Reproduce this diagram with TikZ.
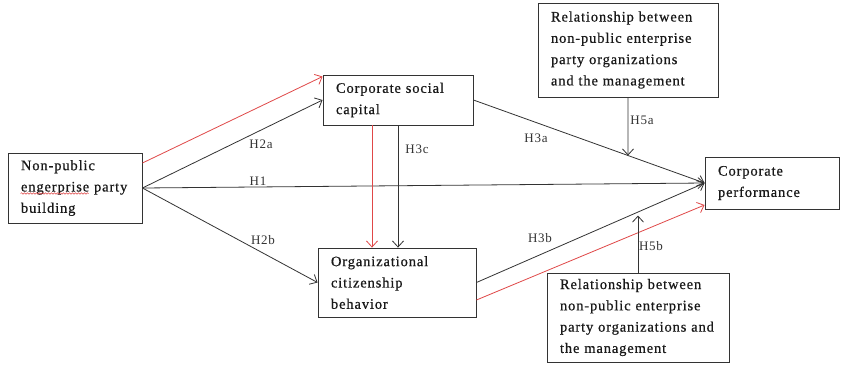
\documentclass[tikz,border=0pt]{standalone}
\usepackage{fontspec}
\setmainfont{Liberation Serif}
\usetikzlibrary{arrows.meta,decorations.pathmorphing}

\definecolor{linegray}{HTML}{333333}
\definecolor{linered}{HTML}{E04848}

\newfontfamily\boxfamily[LetterSpace=6,FakeBold=0.6]{Liberation Serif}
\newfontfamily\hypfamily[LetterSpace=6]{Liberation Serif}
\newcommand\boxfont{\boxfamily\fontsize{14.5}{21.3}\selectfont}
\newcommand\hypfont{\hypfamily\fontsize{13}{15}\selectfont}

\begin{document}
\begin{tikzpicture}[x=1pt,y=-1pt,
  box/.style={draw=linegray, line width=0.9pt, align=left, inner xsep=13pt, inner ysep=0pt, font=\boxfont, text=black!90},
  link/.style={draw=linegray, line width=0.8pt, -{Straight Barb[length=6pt,width=11pt]}},
  redlink/.style={link, draw=linered},
  hyp/.style={font=\hypfont, text=linegray, inner sep=1pt},
  spellwave/.style={draw=linered, line width=0.5pt, decorate,
    decoration={snake, segment length=3pt, amplitude=0.8pt}}]

\useasboundingbox (0,0) rectangle (841,365);
\fill[white] (0,0) rectangle (841,365);

% constructs
\node[box, text width=108pt, minimum height=70pt] (np) at (75,188)
  {Non-public\\engerprise party\\building};
\node[box, text width=124pt, minimum height=50pt] (csc) at (398,100)
  {Corporate social\\capital};
\node[box, text width=132pt, minimum height=69pt] (ocb) at (397,282.5)
  {Organizational\\citizenship\\behavior};
\node[box, text width=108pt, minimum height=52pt] (cp) at (772,183)
  {Corporate\\performance};
\node[box, text width=154pt, minimum height=94pt] (m1) at (628,50)
  {Relationship between\\non-public enterprise\\party organizations\\and the management};
\node[box, text width=156pt, minimum height=89pt] (m2) at (638,317.5)
  {Relationship between\\non-public enterprise\\party organizations and\\the management};

% spell-check wave under the misspelt word
\coordinate (wavestart) at ([xshift=13pt,yshift=-5.5pt]np.west);
\draw[spellwave] (wavestart) -- ++(68,0);

% helper points
\coordinate (rs) at ([xshift=-26pt]csc.south);
\coordinate (h5btip) at ([yshift=57pt]m2.north);

% paths
\draw[redlink] ([yshift=25pt]np.east) -- ([yshift=-2pt]csc.north west);
\draw[link] (np.east) -- (csc.west);
\draw[link] (np.east) -- (cp.west);
\draw[link] (np.east) -- (ocb.west);
\draw[redlink] (rs) -- (rs |- ocb.north);
\draw[link] (csc.south) -- (csc.south |- ocb.north);
\draw[link] (csc.east) -- (cp.west);
\draw[link] (ocb.east) -- (cp.west);
\draw[redlink] ([yshift=-17.5pt]ocb.east) -- ([yshift=-22pt]cp.west);
\draw[link] (m1.south) -- (intersection of m1.south--m1.center and csc.east--cp.west);
\draw[link] (m2.north) -- (h5btip);

% hypothesis labels
\node[hyp] (l2a) at (261,144) {H2a};
\node[hyp] (l1)  at (258,181) {H1};
\node[hyp] (l2b) at (263,240) {H2b};
\node[hyp] (l3c) at (417,149) {H3c};
\node[hyp] (l3a) at (536,138) {H3a};
\node[hyp] (l5a) at (642,120) {H5a};
\node[hyp] (l3b) at (540,238) {H3b};
\node[hyp] (l5b) at (651,246) {H5b};
\end{tikzpicture}
\end{document}
